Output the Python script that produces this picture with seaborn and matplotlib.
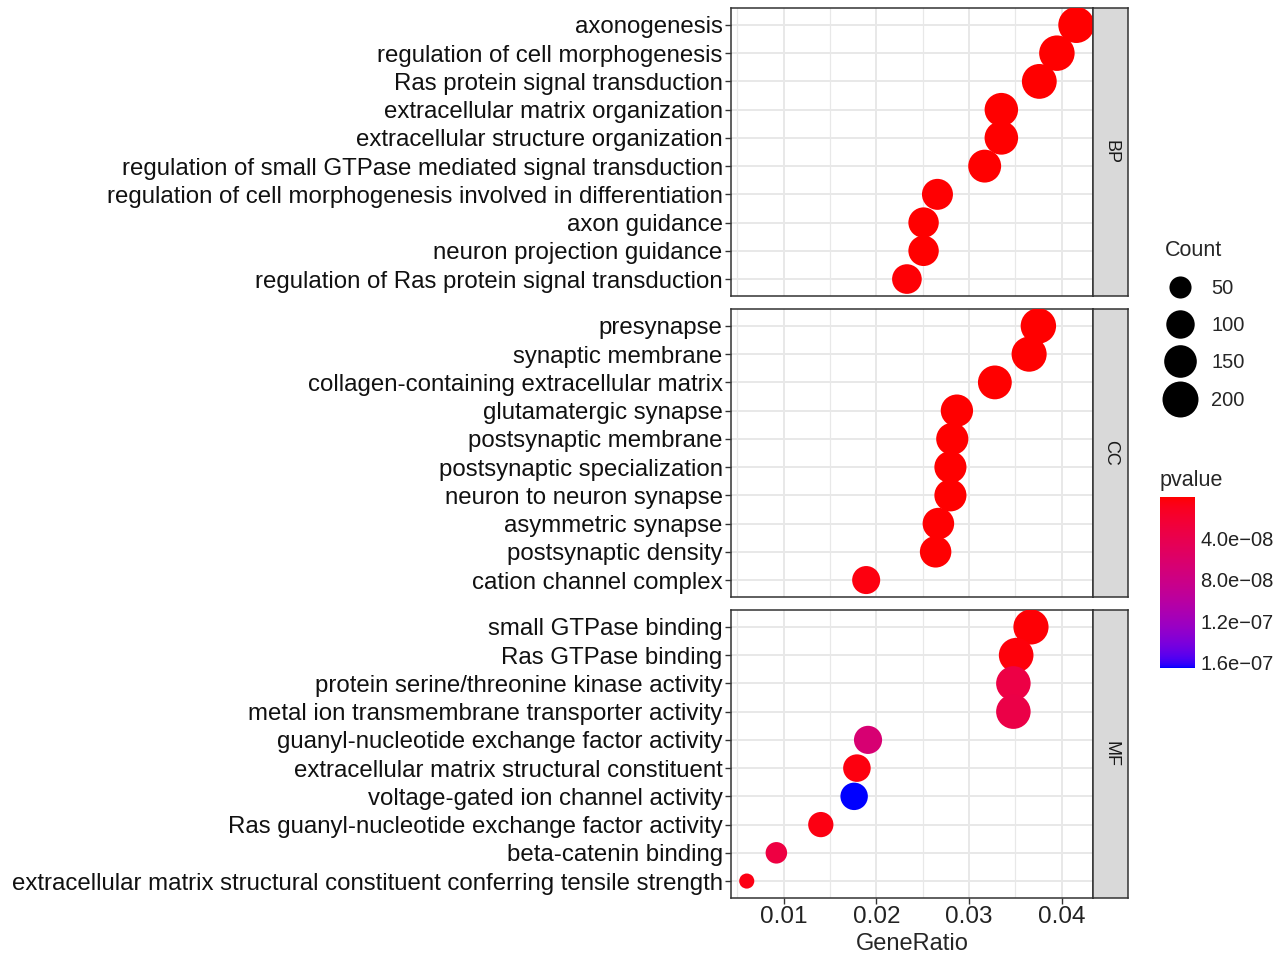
import numpy as np
import pandas as pd
import matplotlib
matplotlib.use("Agg")
import matplotlib.pyplot as plt
from matplotlib.colors import ListedColormap, Normalize
from matplotlib.lines import Line2D
from matplotlib.ticker import MultipleLocator, FuncFormatter
import seaborn as sns

bp_terms = ["axonogenesis", "regulation of cell morphogenesis", "Ras protein signal transduction",
            "extracellular matrix organization", "extracellular structure organization",
            "regulation of small GTPase mediated signal transduction",
            "regulation of cell morphogenesis involved in differentiation", "axon guidance",
            "neuron projection guidance", "regulation of Ras protein signal transduction"]
bp_ratio = [0.0416, 0.0395, 0.0376, 0.0335, 0.0335, 0.0317, 0.0266, 0.0251, 0.0251, 0.0233]
bp_count = [202, 192, 182, 162, 163, 154, 129, 122, 122, 113]
bp_pvalue = [2.1e-12, 5.4e-12, 8.7e-11, 3.3e-13, 4.1e-13, 1.6e-10, 7.9e-10, 2.2e-10, 2.5e-10, 1.9e-9]

cc_terms = ["presynapse", "synaptic membrane", "collagen-containing extracellular matrix",
            "glutamatergic synapse", "postsynaptic membrane", "postsynaptic specialization",
            "neuron to neuron synapse", "asymmetric synapse", "postsynaptic density",
            "cation channel complex"]
cc_ratio = [0.0375, 0.0365, 0.0328, 0.0287, 0.0282, 0.0280, 0.0280, 0.0267, 0.0264, 0.0189]
cc_count = [191, 186, 167, 146, 144, 143, 143, 136, 135, 96]
cc_pvalue = [1.2e-13, 3.5e-12, 6.3e-12, 4.4e-11, 2.8e-10, 5.1e-10, 6.0e-10, 8.2e-10, 1.1e-9, 3.9e-9]

mf_terms = ["small GTPase binding", "Ras GTPase binding", "protein serine/threonine kinase activity",
            "metal ion transmembrane transporter activity", "guanyl-nucleotide exchange factor activity",
            "extracellular matrix structural constituent", "voltage-gated ion channel activity",
            "Ras guanyl-nucleotide exchange factor activity", "beta-catenin binding",
            "extracellular matrix structural constituent conferring tensile strength"]
mf_ratio = [0.0367, 0.0351, 0.0348, 0.0348, 0.0191, 0.0179, 0.0176, 0.0140, 0.0092, 0.0060]
mf_count = [187, 179, 177, 177, 97, 91, 90, 71, 47, 31]
mf_pvalue = [1.3e-9, 2.6e-9, 3.4e-8, 3.6e-8, 6.6e-8, 4.5e-9, 1.65e-7, 5.8e-9, 3.2e-8, 6.1e-9]

count_breaks = [50, 100, 150, 200]
pvalue_breaks = [4e-8, 8e-8, 1.2e-7, 1.6e-7]

# --- red -> blue gradient interpolated in CIELAB (like ggplot's seq_gradient_pal) ---
M = np.array([[0.4124, 0.3576, 0.1805], [0.2126, 0.7152, 0.0722], [0.0193, 0.1192, 0.9505]])
WHITE = M.sum(axis=1)


def to_lab(rgb):
    c = np.asarray(rgb, float)
    lin = np.where(c <= 0.04045, c / 12.92, ((c + 0.055) / 1.055) ** 2.4)
    t = M @ lin / WHITE
    d = 6 / 29
    f = np.where(t > d ** 3, np.cbrt(t), t / (3 * d * d) + 4 / 29)
    return np.array([116 * f[1] - 16, 500 * (f[0] - f[1]), 200 * (f[1] - f[2])])


def from_lab(lab):
    L, a, b = lab
    fy = (L + 16) / 116
    f = np.array([fy + a / 500, fy, fy - b / 200])
    d = 6 / 29
    xyz = np.where(f > d, f ** 3, 3 * d * d * (f - 4 / 29)) * WHITE
    lin = np.clip(np.linalg.solve(M, xyz), 0, 1)
    return np.clip(np.where(lin <= 0.0031308, 12.92 * lin, 1.055 * lin ** (1 / 2.4) - 0.055), 0, 1)


lab_lo, lab_hi = to_lab([1, 0, 0]), to_lab([0, 0, 1])
cmap = ListedColormap([from_lab(lab_lo + t * (lab_hi - lab_lo)) for t in np.linspace(0, 1, 256)])

all_p = bp_pvalue + cc_pvalue + mf_pvalue
all_c = bp_count + cc_count + mf_count
norm = Normalize(min(all_p), max(all_p))
cmin, cmax = min(all_c), max(all_c)


def dot_diam_pt(c):
    # ggplot scale_size(range = c(3, 8)): diameter grows with sqrt of rescaled count
    gg = 3 + 5 * np.sqrt((c - cmin) / (cmax - cmin))
    return (4.2 * gg + 2.5) * 0.72


size_map = {c: dot_diam_pt(c) ** 2 for c in set(all_c)}

sns.set_style("white")
plt.rcParams["font.family"] = ["Liberation Sans", "DejaVu Sans"]

W, H = 1284, 956
fig = plt.figure(figsize=(W / 100, H / 100), dpi=100)

facets = [
    ("BP", pd.DataFrame({"Description": bp_terms, "GeneRatio": bp_ratio, "Count": bp_count, "pvalue": bp_pvalue})),
    ("CC", pd.DataFrame({"Description": cc_terms, "GeneRatio": cc_ratio, "Count": cc_count, "pvalue": cc_pvalue})),
    ("MF", pd.DataFrame({"Description": mf_terms, "GeneRatio": mf_ratio, "Count": mf_count, "pvalue": mf_pvalue})),
]
left, right, strip_w = 731, 1093, 35
tops = [8, 309, 610]
ph = 288
border = "#333333"

for i, (name, df) in enumerate(facets):
    ax = fig.add_axes([left / W, 1 - (tops[i] + ph) / H, (right - left) / W, ph / H])
    sns.scatterplot(data=df, x="GeneRatio", y="Description", hue="pvalue", size="Count",
                    palette=cmap, hue_norm=norm, sizes=size_map, legend=False,
                    linewidth=0, ax=ax, zorder=3)
    n = len(df)
    ax.set_ylim(n - 1 + 0.6, -0.6)
    ax.set_xlim(0.0043, 0.0434)
    ax.xaxis.set_major_locator(MultipleLocator(0.01))
    ax.xaxis.set_minor_locator(MultipleLocator(0.005))
    ax.set_axisbelow(True)
    ax.grid(True, which="major", color="#E8E8E8", lw=1.4)
    ax.grid(True, which="minor", axis="x", color="#E8E8E8", lw=0.9)
    for sp in ax.spines.values():
        sp.set_color(border)
        sp.set_linewidth(1.1)
    ax.set_ylabel("")
    ax.tick_params(axis="y", length=4, width=1, color=border, labelsize=17.3, labelcolor="#111111",
                   pad=2, left=True)
    if i < 2:
        ax.set_xlabel("")
        ax.tick_params(axis="x", bottom=False, labelbottom=False, which="both")
    else:
        ax.set_xlabel("GeneRatio", fontsize=17, labelpad=3)
        ax.tick_params(axis="x", which="major", length=4, width=1, color=border, labelsize=17.5,
                       labelcolor="#222222", pad=2, bottom=True)
        ax.tick_params(axis="x", which="minor", bottom=False)
        ax.xaxis.set_major_formatter(FuncFormatter(lambda v, _: f"{v:.2f}"))

    # facet strip on the right
    sax = fig.add_axes([right / W, 1 - (tops[i] + ph) / H, strip_w / W, ph / H])
    sax.set_facecolor("#D9D9D9")
    sax.set_xticks([])
    sax.set_yticks([])
    for sp in sax.spines.values():
        sp.set_color(border)
        sp.set_linewidth(1.1)
    sax.text(0.5, 0.5, name, rotation=-90, ha="center", va="center", fontsize=13,
             color="#1A1A1A", transform=sax.transAxes)

# Count legend
handles = [Line2D([], [], marker="o", linestyle="", color="black", markeredgewidth=0,
                  markersize=dot_diam_pt(c)) for c in count_breaks]
fig.legend(handles, [str(c) for c in count_breaks], title="Count", loc="upper left",
           bbox_to_anchor=(1155 / W, 1 - 230 / H), frameon=False, fontsize=14.5,
           title_fontsize=15.5, labelspacing=0.9, handletextpad=0.8, borderpad=0,
           alignment="left", handlelength=1.5)

# pvalue colorbar (reversed: small p at top)
cax = fig.add_axes([1160 / W, 1 - 668 / H, 35 / W, 171 / H])
sm = plt.cm.ScalarMappable(cmap=cmap, norm=norm)
cb = fig.colorbar(sm, cax=cax)
cb.outline.set_visible(False)
cax.invert_yaxis()
cb.set_ticks(pvalue_breaks)
cax.yaxis.set_major_formatter(FuncFormatter(lambda v, _: f"{v:.1e}".replace("-", "\u2212")))
cax.tick_params(axis="y", direction="in", length=6, width=1, color="white", left=True,
                right=True, labelsize=14.5, labelcolor="#222222", pad=4)
cax.set_title("pvalue", loc="left", fontsize=15.5, pad=8)

fig.savefig("out.png", dpi=100)
